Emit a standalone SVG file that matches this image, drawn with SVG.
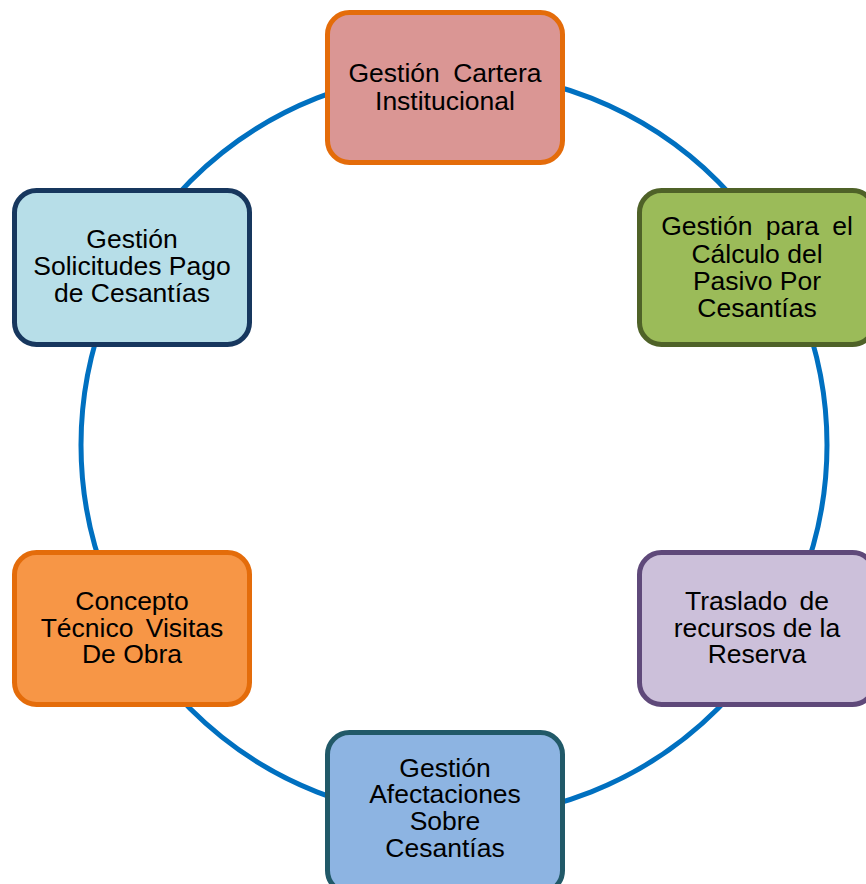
<svg xmlns="http://www.w3.org/2000/svg" width="866" height="884" viewBox="0 0 866 884">
<style>
.box{stroke-width:5}
.t{font-family:"Liberation Sans",Arial,sans-serif;font-size:26.5px;fill:#000;text-anchor:middle}
</style>
<rect width="866" height="884" fill="#fff"/>
<g id="connectors">
<circle cx="454" cy="445" r="373" fill="none" stroke="#0070C0" stroke-width="5"/>
</g>
<g id="n1">
<rect class="box" x="327.5" y="12.5" width="235" height="150" rx="22" fill="#DA9694" stroke="#E46C0A"/>
<text class="t" x="445" y="82" word-spacing="6">Gestión Cartera</text>
<text class="t" x="445" y="110">Institucional</text>
</g>
<g id="n2">
<rect class="box" x="639.5" y="190.5" width="235" height="154" rx="22" fill="#9BBB59" stroke="#4F6228"/>
<text class="t" x="757" y="235" word-spacing="6">Gestión para el</text>
<text class="t" x="757" y="263">Cálculo del</text>
<text class="t" x="757" y="290">Pasivo Por</text>
<text class="t" x="757" y="317">Cesantías</text>
</g>
<g id="n3">
<rect class="box" x="639.5" y="552.5" width="235" height="152" rx="22" fill="#CCC0DA" stroke="#5F497A"/>
<text class="t" x="757" y="610" word-spacing="5">Traslado de</text>
<text class="t" x="757" y="637">recursos de la</text>
<text class="t" x="757" y="663">Reserva</text>
</g>
<g id="n4">
<rect class="box" x="327.5" y="732.5" width="235" height="160" rx="22" fill="#8DB4E2" stroke="#215968"/>
<text class="t" x="445" y="777">Gestión</text>
<text class="t" x="445" y="803">Afectaciones</text>
<text class="t" x="445" y="830">Sobre</text>
<text class="t" x="445" y="857">Cesantías</text>
</g>
<g id="n5">
<rect class="box" x="14.5" y="552.5" width="235" height="152" rx="22" fill="#F79646" stroke="#E46C0A"/>
<text class="t" x="132" y="610">Concepto</text>
<text class="t" x="132" y="637" word-spacing="5">Técnico Visitas</text>
<text class="t" x="132" y="663">De Obra</text>
</g>
<g id="n6">
<rect class="box" x="14.5" y="190.5" width="235" height="154" rx="22" fill="#B7DEE8" stroke="#17375E"/>
<text class="t" x="132" y="248">Gestión</text>
<text class="t" x="132" y="275">Solicitudes Pago</text>
<text class="t" x="132" y="302">de Cesantías</text>
</g>
</svg>
